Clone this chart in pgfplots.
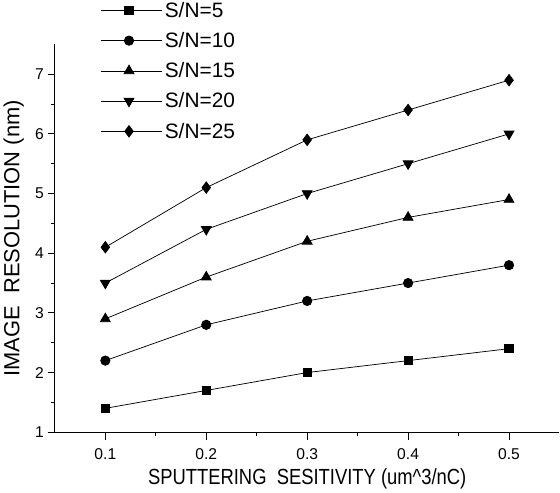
\documentclass[border=0pt]{standalone}
\usepackage{graphicx}
\usepackage{fontspec}
\setmainfont{Liberation Sans}
\usepackage{pgfplots}
\pgfplotsset{compat=1.18}

\begin{document}
\begin{tikzpicture}
\begin{axis}[
  scale only axis,
  width=484pt, height=372pt,
  xmin=0.05, xmax=0.55, ymin=1, ymax=7.5,
  axis lines*=left,
  xtick={0.1,0.2,0.3,0.4,0.5},
  ytick={1,2,3,4,5,6,7},
  xticklabels={0.1,0.2,0.3,0.4,0.5},
  minor x tick num=1, minor y tick num=1,
  tick align=outside,
  major tick length=7pt, minor tick length=4pt,
  every tick/.style={black, line width=0.8pt},
  axis line style={line width=1pt},
  /pgf/number format/assume math mode=true,
  tick label style={font=\fontsize{15}{17}\selectfont},
  xticklabel style={yshift=-5pt},
  xlabel={\scalebox{0.84}[1]{SPUTTERING\ \ SESITIVITY (um\textasciicircum 3/nC)}},
  ylabel={IMAGE\ \ RESOLUTION (nm)},
  label style={font=\fontsize{21}{24}\selectfont},
  xlabel style={yshift=-2pt},
  ylabel style={yshift=4pt},
  legend style={at={(axis description cs:0.09,1.115)}, anchor=north west,
    draw=none, fill=none, font=\fontsize{20}{23}\selectfont,
    row sep=9pt, inner sep=0pt},
  legend cell align=left,
  legend image code/.code={
    \path (0pt,0pt) -- (59pt,0pt);
    \draw[#1, mark repeat=2, mark phase=2] plot coordinates {(0pt,0pt)(27pt,0pt)(54pt,0pt)};
  },
]
\addplot[black, line width=0.7pt, mark=square*, mark size=4pt, mark options={solid, fill=black}]
  coordinates {(0.1,1.4)(0.2,1.7)(0.3,2.0)(0.4,2.2)(0.5,2.4)};
\addlegendentry{S/N=5}
\addplot[black, line width=0.7pt, mark=*, mark size=4.5pt, mark options={solid, fill=black}]
  coordinates {(0.1,2.2)(0.2,2.8)(0.3,3.2)(0.4,3.5)(0.5,3.8)};
\addlegendentry{S/N=10}
\addplot[black, line width=0.7pt, mark=triangle*, mark size=5.5pt, mark options={solid, fill=black}]
  coordinates {(0.1,2.9)(0.2,3.6)(0.3,4.2)(0.4,4.6)(0.5,4.9)};
\addlegendentry{S/N=15}
\addplot[black, line width=0.7pt, mark=triangle*, mark size=5.5pt, mark options={solid, fill=black, rotate=180}]
  coordinates {(0.1,3.5)(0.2,4.4)(0.3,5.0)(0.4,5.5)(0.5,6.0)};
\addlegendentry{S/N=20}
\addplot[black, line width=0.7pt, mark=diamond*, mark size=5.5pt, mark options={solid, fill=black}]
  coordinates {(0.1,4.1)(0.2,5.1)(0.3,5.9)(0.4,6.4)(0.5,6.9)};
\addlegendentry{S/N=25}
\end{axis}
\end{tikzpicture}
\end{document}
